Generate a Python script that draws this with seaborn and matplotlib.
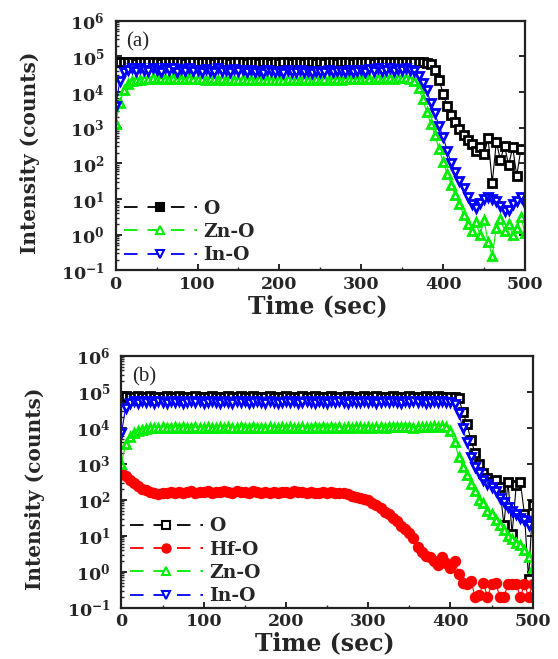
import numpy as np
import pandas as pd
import matplotlib
matplotlib.use("Agg")
import matplotlib.pyplot as plt
from matplotlib.lines import Line2D
from matplotlib.ticker import FixedLocator, LogLocator, MultipleLocator, NullFormatter
import seaborn as sns

# sampling times (sec), one reading every 5 s
time_s = list(range(0, 505, 5))

# ---- panel (a): log10 of intensity (counts) ----
o_a = [4.84, 4.83, 4.85, 4.83, 4.84, 4.82, 4.84, 4.83, 4.85, 4.83,
       4.84, 4.82, 4.84, 4.83, 4.85, 4.83, 4.84, 4.82, 4.83, 4.84,
       4.83, 4.85, 4.83, 4.84, 4.82, 4.84, 4.83, 4.84, 4.82, 4.83,
       4.84, 4.83, 4.82, 4.84, 4.83, 4.82, 4.84, 4.83, 4.82, 4.83,
       4.82, 4.84, 4.83, 4.82, 4.83, 4.84, 4.82, 4.83, 4.84, 4.82,
       4.83, 4.82, 4.84, 4.83, 4.82, 4.84, 4.83, 4.84, 4.82, 4.83,
       4.84, 4.83, 4.84, 4.82, 4.84, 4.83, 4.85, 4.83, 4.84, 4.83,
       4.84, 4.85, 4.83, 4.84, 4.85, 4.83, 4.82, 4.78, 4.62, 4.35,
       3.95, 3.60, 3.35, 3.15, 2.95, 2.80, 2.65, 2.55, 2.35, 2.45,
       2.25, 2.70, 1.45, 2.60, 2.10, 2.50, 1.95, 2.45, 1.65, 2.40,
       np.nan]
zno_a = [3.10, 3.70, 4.05, 4.22, 4.30, 4.33, 4.35, 4.36, 4.37, 4.38,
         4.37, 4.38, 4.36, 4.37, 4.38, 4.36, 4.37, 4.36, 4.38, 4.37,
         4.36, 4.37, 4.35, 4.36, 4.37, 4.35, 4.36, 4.35, 4.36, 4.35,
         4.35, 4.36, 4.35, 4.34, 4.35, 4.36, 4.34, 4.35, 4.34, 4.35,
         4.34, 4.35, 4.36, 4.34, 4.35, 4.34, 4.36, 4.35, 4.34, 4.36,
         4.35, 4.36, 4.35, 4.37, 4.36, 4.35, 4.37, 4.36, 4.37, 4.36,
         4.37, 4.38, 4.36, 4.37, 4.38, 4.37, 4.38, 4.39, 4.37, 4.38,
         4.38, 4.39, 4.37, 4.30, 4.10, 3.80, 3.45, 3.10, 2.80, 2.40,
         2.05, 1.70, 1.40, 1.10, 0.85, 0.55, 0.30, 0.10, 0.35, 0.00,
         0.40, -0.20, -0.60, 0.20, 0.45, 0.10, 0.30, 0.00, 0.20, 0.50,
         0.05]
ino_a = [3.60, 4.30, 4.55, 4.62, 4.66, 4.60, 4.68, 4.63, 4.58, 4.67,
         4.62, 4.56, 4.66, 4.61, 4.68, 4.57, 4.64, 4.60, 4.67, 4.58,
         4.63, 4.55, 4.65, 4.60, 4.57, 4.66, 4.59, 4.63, 4.56, 4.64,
         4.58, 4.62, 4.55, 4.63, 4.57, 4.60, 4.54, 4.62, 4.58, 4.55,
         4.60, 4.54, 4.61, 4.57, 4.55, 4.62, 4.56, 4.59, 4.54, 4.60,
         4.57, 4.55, 4.61, 4.56, 4.60, 4.58, 4.55, 4.62, 4.57, 4.60,
         4.62, 4.57, 4.64, 4.60, 4.66, 4.59, 4.63, 4.67, 4.60, 4.65,
         4.62, 4.66, 4.63, 4.60, 4.45, 4.25, 4.05, 3.70, 3.40, 3.05,
         2.75, 2.35, 2.00, 1.75, 1.50, 1.30, 1.05, 0.85, 0.75, 0.90,
         1.00, 1.05, 1.00, 0.95, 0.80, 0.65, 0.70, 0.85, 0.95, 1.05,
         0.85]

# ---- panel (b): log10 of intensity (counts) ----
o_b = [4.86, 4.87, 4.85, 4.86, 4.87, 4.86, 4.85, 4.87, 4.86, 4.85,
       4.86, 4.87, 4.86, 4.85, 4.87, 4.86, 4.86, 4.85, 4.87, 4.86,
       4.85, 4.86, 4.87, 4.86, 4.85, 4.86, 4.87, 4.85, 4.86, 4.87,
       4.86, 4.85, 4.87, 4.86, 4.86, 4.85, 4.87, 4.86, 4.85, 4.86,
       4.87, 4.86, 4.85, 4.86, 4.87, 4.86, 4.85, 4.87, 4.86, 4.86,
       4.85, 4.87, 4.86, 4.85, 4.86, 4.87, 4.86, 4.85, 4.86, 4.87,
       4.86, 4.85, 4.87, 4.86, 4.85, 4.86, 4.87, 4.86, 4.85, 4.86,
       4.87, 4.86, 4.85, 4.86, 4.87, 4.85, 4.86, 4.87, 4.86, 4.85,
       4.86, 4.85, 4.82, 4.45, 4.10, 3.65, 3.30, 3.00, 2.75, 2.60,
       2.50, 2.55, 2.35, 1.30, 2.50, 1.05, 2.40, 2.50, 1.60, -0.20,
       1.85]
hfo_b = [2.78, 2.66, 2.55, 2.46, 2.37, 2.31, 2.26, 2.22, 2.19, 2.17,
         2.18, 2.20, 2.21, 2.19, 2.22, 2.20, 2.21, 2.23, 2.20, 2.22,
         2.21, 2.23, 2.20, 2.22, 2.21, 2.23, 2.22, 2.20, 2.23, 2.21,
         2.22, 2.20, 2.23, 2.21, 2.19, 2.21, 2.20, 2.22, 2.19, 2.21,
         2.22, 2.20, 2.23, 2.21, 2.22, 2.20, 2.21, 2.19, 2.20, 2.21,
         2.20, 2.21, 2.19, 2.20, 2.18, 2.15, 2.10, 2.07, 2.05, 2.02,
         1.98, 1.92, 1.85, 1.77, 1.67, 1.60, 1.50, 1.40, 1.28, 1.18,
         1.08, 0.95, 0.70, 0.55, 0.45, 0.40, 0.30, 0.20, 0.40, 0.25,
         0.10, 0.30, -0.05, -0.30, -0.35, -0.25, -0.70, -0.65, -0.30, -0.70,
         -0.35, -0.30, -0.70, -0.70, -0.35, -0.35, -0.35, -0.70, -0.35, -0.70,
         -0.35]
zno_b = [3.00, 3.55, 3.75, 3.85, 3.92, 3.95, 3.97, 3.98, 3.99, 4.00,
         4.01, 3.99, 4.00, 4.02, 3.99, 4.01, 4.00, 3.98, 4.01, 4.00,
         3.99, 4.01, 4.00, 3.98, 4.01, 4.00, 4.02, 3.99, 4.00, 4.01,
         4.00, 3.99, 4.01, 4.00, 3.98, 4.00, 4.01, 3.99, 4.00, 4.02,
         4.00, 4.01, 3.99, 4.00, 4.02, 4.00, 3.99, 4.01, 4.00, 4.01,
         4.00, 4.02, 4.00, 4.01, 3.99, 4.01, 4.00, 4.02, 4.01, 4.00,
         4.01, 4.00, 4.02, 4.01, 4.00, 4.02, 4.01, 4.03, 4.01, 4.02,
         4.01, 4.00, 4.02, 4.01, 4.03, 4.02, 4.04, 4.03, 4.06, 4.03,
         3.90, 3.60, 3.20, 2.90, 2.70, 2.45, 2.25, 2.00, 1.90, 1.70,
         1.60, 1.45, 1.30, 1.15, 1.00, 0.90, 0.80, 0.75, 0.60, 0.40,
         0.10]
ino_b = [3.85, 4.55, 4.70, 4.73, 4.70, 4.74, 4.71, 4.73, 4.69, 4.74,
         4.72, 4.70, 4.74, 4.71, 4.73, 4.70, 4.72, 4.74, 4.71, 4.73,
         4.70, 4.72, 4.74, 4.71, 4.69, 4.73, 4.72, 4.70, 4.74, 4.71,
         4.73, 4.70, 4.72, 4.74, 4.71, 4.70, 4.73, 4.72, 4.69, 4.72,
         4.74, 4.71, 4.73, 4.70, 4.72, 4.74, 4.71, 4.70, 4.73, 4.72,
         4.70, 4.73, 4.71, 4.74, 4.72, 4.70, 4.73, 4.71, 4.72, 4.74,
         4.71, 4.73, 4.70, 4.72, 4.74, 4.71, 4.73, 4.72, 4.70, 4.73,
         4.72, 4.74, 4.71, 4.73, 4.70, 4.72, 4.74, 4.71, 4.73, 4.72,
         4.72, 4.65, 4.40, 4.00, 3.60, 3.20, 2.90, 2.75, 2.55, 2.45,
         2.35, 2.25, 2.05, 1.95, 1.80, 1.70, 1.60, 1.50, 1.45, 1.30,
         1.40]

decades = [-1, 0, 1, 2, 3, 4, 5, 6]
x_ticks = [0, 100, 200, 300, 400, 500]

# name, log-values, colour, marker, face colour
series_a = [
    ("O", o_a, "#000000", "s", "white"),
    ("Zn-O", zno_a, "#00ee00", "^", "white"),
    ("In-O", ino_a, "#0000ff", "v", "white"),
]
series_b = [
    ("O", o_b, "#000000", "s", "white"),
    ("Hf-O", hfo_b, "#ff0000", "o", "#ff0000"),
    ("Zn-O", zno_b, "#00ee00", "^", "white"),
    ("In-O", ino_b, "#0000ff", "v", "white"),
]
legend_face_a = {"O": "#000000", "Zn-O": "white", "In-O": "white"}

sns.set_style("ticks")
plt.rcParams["font.family"] = ["DejaVu Serif"]
plt.rcParams["mathtext.fontset"] = "dejavuserif"

fig = plt.figure(figsize=(5.58, 6.59), dpi=100)
ax_a = fig.add_axes([0.2073, 0.5898, 0.7335, 0.3788])
ax_b = fig.add_axes([0.2177, 0.0778, 0.7369, 0.3824])


def draw_panel(ax, series, tag, legend_y, faces=None):
    for name, vals, color, marker, face in series:
        df = pd.DataFrame({"t": time_s, "counts": np.power(10.0, vals)}).dropna()
        sns.lineplot(data=df, x="t", y="counts", ax=ax, color=color, lw=0.8,
                     marker=marker, markersize=6.2, markerfacecolor=face,
                     markeredgecolor=color, markeredgewidth=2.0,
                     estimator=None, sort=False, legend=False)

    ax.set_yscale("log")
    ax.set_xlim(0, 500)
    ax.set_ylim(10.0 ** decades[0], 10.0 ** decades[-1])

    ax.yaxis.set_major_locator(FixedLocator([10.0 ** d for d in decades]))
    ax.set_yticklabels([r"$\mathbf{10^{%d}}$" % d for d in decades])
    ax.yaxis.set_minor_locator(LogLocator(base=10, subs=np.arange(2, 10)))
    ax.yaxis.set_minor_formatter(NullFormatter())
    ax.set_xticks(x_ticks)
    ax.set_xticklabels([str(v) for v in x_ticks])
    ax.xaxis.set_minor_locator(MultipleLocator(50))

    ax.tick_params(which="major", direction="in", length=4, width=1.4,
                   left=True, right=True, bottom=True, top=False, labelsize=12.5)
    ax.tick_params(which="minor", direction="in", length=2.5, width=1.0,
                   left=True, right=False, bottom=True, top=False)
    ax.tick_params(axis="y", pad=8)
    ax.tick_params(axis="x", pad=4)
    for lab in ax.get_xticklabels():
        lab.set_fontweight("bold")
    for sp in ax.spines.values():
        sp.set_linewidth(1.6)
        sp.set_color("#222222")

    ax.set_xlabel("Time (sec)", fontsize=17, fontweight="bold")
    ax.set_ylabel("Intensity (counts)", fontsize=14.5, fontweight="bold")
    ax.xaxis.set_label_coords(0.495, -0.095)
    ax.yaxis.set_label_coords(-0.185, 0.47)

    ax.text(0.025, 0.915, tag, transform=ax.transAxes, fontsize=15,
            family="Liberation Serif", va="center", ha="left")

    handles = []
    for name, vals, color, marker, face in series:
        f = faces[name] if faces else face
        handles.append(Line2D([], [], color=color, lw=1.3,
                              linestyle=(0, (7.5, 5.5)), marker=marker,
                              markersize=6, markerfacecolor=f,
                              markeredgecolor=color, markeredgewidth=1.5))
    ax.legend(handles, [s[0] for s in series], loc="lower left",
              bbox_to_anchor=(0.02, legend_y), frameon=False,
              handlelength=3.9, handletextpad=0.35, labelspacing=0.28,
              borderpad=0, borderaxespad=0,
              prop={"family": "DejaVu Serif", "weight": "bold", "size": 13.5})


draw_panel(ax_a, series_a, "(a)", 0.025, faces=legend_face_a)
draw_panel(ax_b, series_b, "(b)", 0.01)

fig.savefig("out.png", dpi=100)
